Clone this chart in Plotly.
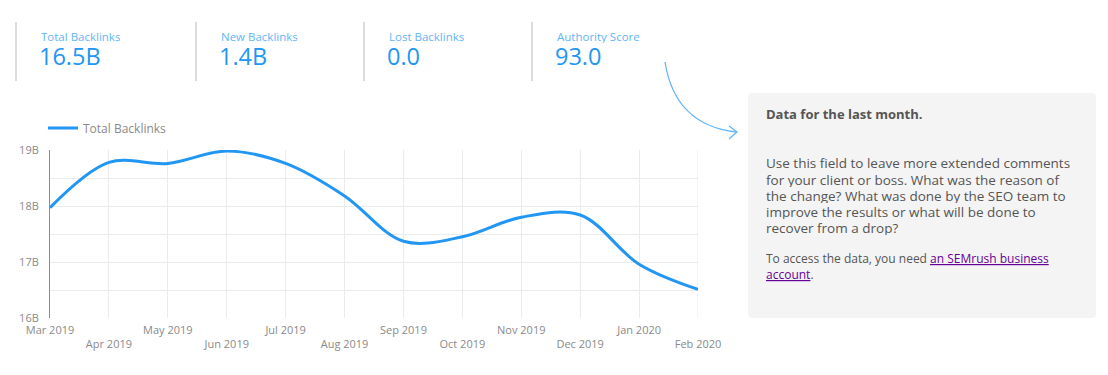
import plotly.graph_objects as go

W, H = 1108, 375
OFF = 8  # page body margin
FW, FH = W - 2 * OFF, H - 2 * OFF

# ---- data ----
months = ["Mar 2019", "Apr 2019", "May 2019", "Jun 2019", "Jul 2019", "Aug 2019",
          "Sep 2019", "Oct 2019", "Nov 2019", "Dec 2019", "Jan 2020", "Feb 2020"]
total_backlinks_b = [17.97, 18.78, 18.76, 18.98, 18.76, 18.18,
                     17.37, 17.45, 17.80, 17.84, 16.96, 16.51]
y_ticks = [16, 17, 18, 19]
y_tick_labels = ["16B", "17B", "18B", "19B"]

kpi_labels = ["Total Backlinks", "New Backlinks", "Lost Backlinks", "Authority Score"]
kpi_values = ["16.5B", "1.4B", "0.0", "93.0"]

note_title = "Data for the last month."
note_lines = ["Use this field to leave more extended comments",
              "for your client or boss. What was the reason of",
              "the change? What was done by the SEO team to",
              "improve the results or what will be done to",
              "recover from a drop?"]

FONT = "Open Sans"
BLUE = "#2196f3"


def px(x):
    return (x - OFF) / FW


def py(y):
    return 1 - (y - OFF) / FH


x_idx = list(range(len(months)))
tick_text = [m if i % 2 == 0 else "<br>" + m for i, m in enumerate(months)]

fig = go.Figure()
fig.add_trace(go.Scatter(
    x=x_idx, y=total_backlinks_b, mode="lines", name="Total Backlinks",
    line=dict(color=BLUE, width=3, shape="spline", smoothing=1.0),
    hoverinfo="skip",
))

fig.update_layout(
    template="none",
    width=FW, height=FH, margin=dict(l=0, r=0, t=0, b=0, pad=0, autoexpand=False),
    paper_bgcolor="white", plot_bgcolor="white",
    font=dict(family=FONT, color="#8a8a8a", size=11),
    showlegend=True,
    legend=dict(x=px(43), y=py(128), xanchor="left", yanchor="middle",
                orientation="h", font=dict(size=12, color="#8a8a8a"),
                bgcolor="rgba(0,0,0,0)", itemwidth=30),
    xaxis=dict(domain=[px(50), px(698)], range=[0, len(months) - 1],
               tickmode="array", tickvals=x_idx, ticktext=tick_text,
               showgrid=True, gridcolor="#ebebeb", gridwidth=1,
               zeroline=False, showline=False, ticks="", automargin=False,
               ticklabelstandoff=4,
               tickfont=dict(size=11, color="#8a8a8a"), fixedrange=True),
    yaxis=dict(domain=[py(318), py(150)], range=[16, 19],
               tickmode="array", tickvals=y_ticks, ticktext=y_tick_labels,
               showgrid=True, gridcolor="#ebebeb", gridwidth=1,
               minor=dict(dtick=0.5, showgrid=True, gridcolor="#ebebeb", gridwidth=1),
               zeroline=False, showline=True, linecolor="#8c8c8c", linewidth=1,
               ticks="", ticklabelstandoff=8, automargin=False,
               tickfont=dict(size=11, color="#8a8a8a"), fixedrange=True),
)

shapes = []
# right border of plot area (last month gridline)
shapes.append(dict(type="line", xref="x", yref="y", x0=len(months) - 1, x1=len(months) - 1,
                   y0=16, y1=19, line=dict(color="#ebebeb", width=1), layer="below"))
# KPI separators
for sx in [16, 196, 364, 532]:
    shapes.append(dict(type="line", xref="paper", yref="paper",
                       x0=px(sx), x1=px(sx), y0=py(22), y1=py(81),
                       line=dict(color="#dcdcdc", width=2)))

# note box (rounded)
x0, x1, y0, y1, r = 748, 1096, 93, 318, 4
path = (f"M{px(x0 + r)},{py(y0)} L{px(x1 - r)},{py(y0)} "
        f"Q{px(x1)},{py(y0)} {px(x1)},{py(y0 + r)} L{px(x1)},{py(y1 - r)} "
        f"Q{px(x1)},{py(y1)} {px(x1 - r)},{py(y1)} L{px(x0 + r)},{py(y1)} "
        f"Q{px(x0)},{py(y1)} {px(x0)},{py(y1 - r)} L{px(x0)},{py(y0 + r)} "
        f"Q{px(x0)},{py(y0)} {px(x0 + r)},{py(y0)} Z")
shapes.append(dict(type="path", xref="paper", yref="paper", path=path,
                   fillcolor="#f4f4f4", line=dict(width=0), layer="below"))

# curved arrow
shapes.append(dict(type="path", xref="paper", yref="paper",
                   path=f"M{px(665)},{py(62)} Q{px(675)},{py(125)} {px(736)},{py(132)}",
                   line=dict(color="#64b5f6", width=1.3)))
shapes.append(dict(type="path", xref="paper", yref="paper",
                   path=f"M{px(729)},{py(126)} L{px(737)},{py(132)} L{px(729)},{py(139)}",
                   line=dict(color="#64b5f6", width=1.3)))
fig.update_layout(shapes=shapes)

ann = []
for i, (lab, val) in enumerate(zip(kpi_labels, kpi_values)):
    lx = [40, 220, 388, 556][i]
    ann.append(dict(x=px(lx - 1), y=py(36), xref="paper", yref="paper",
                    xanchor="left", yanchor="middle", showarrow=False, height=14,
                    text=lab, font=dict(family=FONT, size=11.5, color="#64b5f6")))
    ann.append(dict(x=px(lx - 3), y=py(56), xref="paper", yref="paper",
                    xanchor="left", yanchor="middle", showarrow=False, height=24,
                    text=val, font=dict(family=FONT, size=23.5, color=BLUE)))

ann.append(dict(x=px(764), y=py(114), xref="paper", yref="paper",
                xanchor="left", yanchor="middle", showarrow=False,
                text="<b>" + note_title + "</b>",
                font=dict(family=FONT, size=13, color="#555555")))
for i, line in enumerate(note_lines):
    ann.append(dict(x=px(764), y=py(163 + 16 * i), xref="paper", yref="paper",
                    xanchor="left", yanchor="middle", showarrow=False, height=15,
                    text=line, font=dict(family=FONT, size=13.5, color="#555555")))
ann.append(dict(x=px(764), y=py(258), xref="paper", yref="paper",
                xanchor="left", yanchor="middle", showarrow=False, height=15,
                text='To access the data, you need '
                     '<a href="https://www.semrush.com" style="color:#660099;text-decoration:underline">an SEMrush business</a>',
                font=dict(family=FONT, size=12, color="#555555")))
ann.append(dict(x=px(764), y=py(274), xref="paper", yref="paper",
                xanchor="left", yanchor="middle", showarrow=False, height=15,
                text='<a href="https://www.semrush.com" style="color:#660099;text-decoration:underline">account</a>.',
                font=dict(family=FONT, size=12, color="#555555")))
fig.update_layout(annotations=ann)

fig.write_html("out.html", config={"displayModeBar": False})
